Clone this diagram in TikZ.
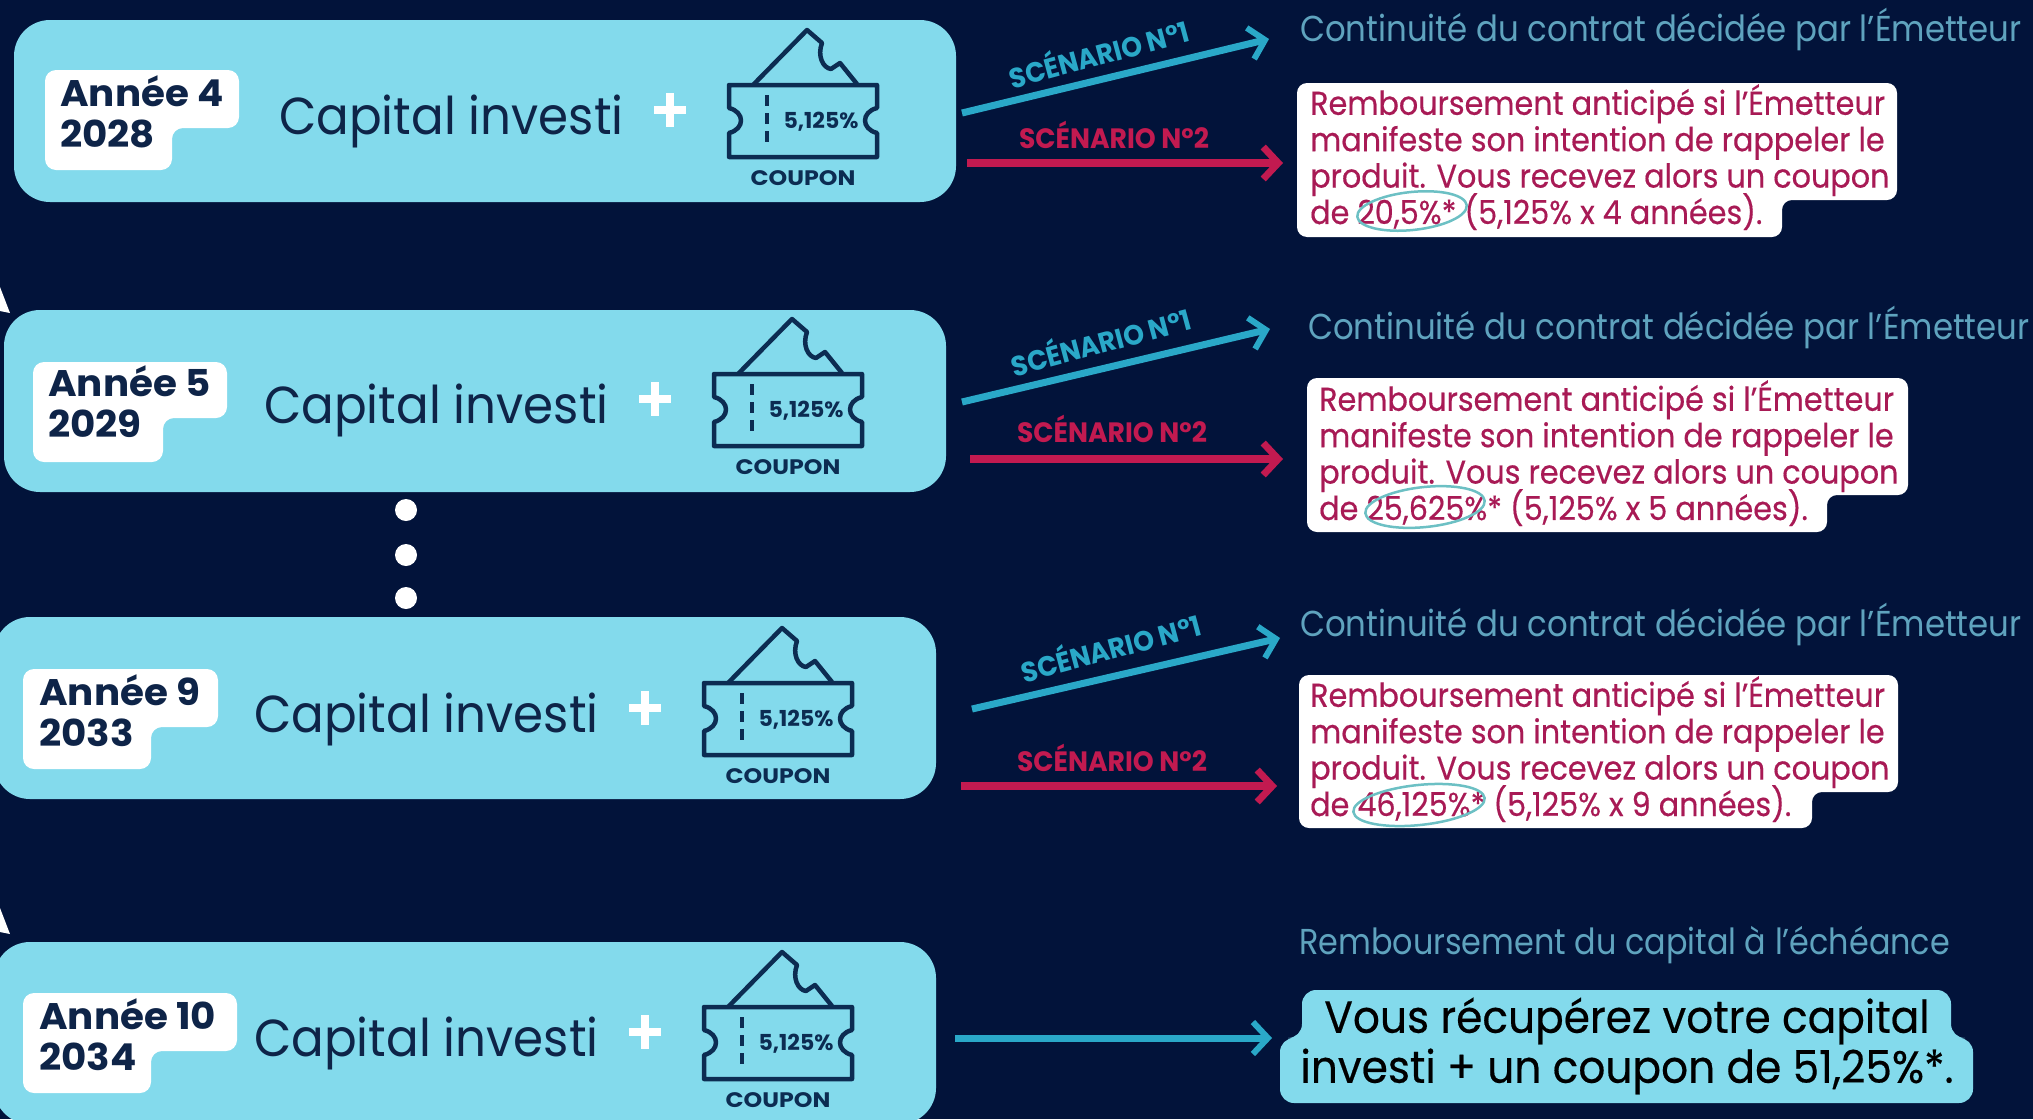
\documentclass[tikz,border=0pt]{standalone}
\usepackage{fontspec}
\usetikzlibrary{arrows.meta}
\setmainfont{Poppins}
\newfontfamily\fcap{Poppins}[FakeStretch=0.93]
\newfontfamily\fcont{Poppins}[FakeStretch=0.90]
\newfontfamily\fend{Poppins}[FakeStretch=0.885]
\newfontfamily\fred{Poppins}[FakeStretch=0.916,FakeBold=0.4]
\newfontfamily\ffinal{Poppins}[FakeStretch=0.94,FakeBold=0.4]
\newfontfamily\fyear{Poppins Bold}[FakeStretch=1.05]
\newfontfamily\fscen{Poppins Bold}[FakeStretch=0.95]
\newfontfamily\fcoup{Poppins Bold}[FakeStretch=1.13]
\newfontfamily\fpct{Poppins Bold}[FakeStretch=1.0]
\definecolor{bgc}{HTML}{02133A}
\definecolor{panelc}{HTML}{83DAEC}
\definecolor{inkc}{HTML}{0E2448}
\definecolor{ticketc}{HTML}{0C2C52}
\definecolor{bluec}{HTML}{2AA8C8}
\definecolor{redc}{HTML}{C21A50}
\definecolor{redtxt}{HTML}{A81A55}
\definecolor{contc}{HTML}{5FA3BE}
\definecolor{tealc}{HTML}{6CC0C4}
\newcommand{\fsz}[2]{\fontsize{#1}{#2}\selectfont}
\tikzset{
  panelbox/.style={fill=panelc,draw=none,rounded corners=36pt,inner sep=0pt,minimum height=182pt,minimum width=942pt},
  labelshape/.style={fill=white,rounded corners=11pt},
  tightlines/.style={execute at begin node={\lineskiplimit=-100pt\relax}},
  yeartext/.style={anchor=north west,inner sep=0pt,align=left,tightlines,text=inkc,font=\fyear\fsz{37}{41}},
  captext/.style={anchor=west,inner sep=0pt,text=inkc,font=\fcap\fsz{52}{56}},
  plussign/.style={draw=white,line width=8pt},
  ticketline/.style={draw=ticketc,line width=4.5pt,line join=round},
  tickettxt/.style={inner sep=0pt,text=ticketc,font=\fcoup\fsz{21}{24}},
  pcttxt/.style={inner sep=0pt,text=ticketc,font=\fpct\fsz{22}{24}},
  blueline/.style={draw=bluec,line width=7pt,-{Straight Barb[length=15pt,width=32pt,line width=6pt]}},
  redline/.style={draw=redc,line width=8pt,-{Straight Barb[length=15pt,width=32pt,line width=7pt]}},
  scenblue/.style={inner sep=0pt,text=bluec,font=\fscen\fsz{28}{30},rotate=15},
  scenred/.style={inner sep=0pt,text=redc,font=\fscen\fsz{28}{30}},
  conttext/.style={anchor=west,inner sep=0pt,text=contc,font=\fcont\fsz{36}{40}},
  endtext/.style={anchor=west,inner sep=0pt,text=contc,font=\fend\fsz{36}{40}},
  redtext/.style={anchor=north west,inner sep=0pt,align=left,tightlines,text=redtxt,font=\fred\fsz{33}{36.4}},
  whitebox/.style={fill=white,rounded corners=10pt},
  ringline/.style={draw=tealc,line width=2.5pt},
  dotmark/.style={circle,fill=white,inner sep=0pt,minimum size=22pt},
  finalbox/.style={fill=panelc,rounded corners=14pt},
  finaltext/.style={inner sep=0pt,align=center,tightlines,text=black,font=\ffinal\fsz{45}{50}},
}
\newcommand{\ticket}{%
  \draw[ticketline] (729,85) -- (877,85) -- (877,108) .. controls (861,112) and (861,129) .. (877,133) -- (877,157) -- (729,157) -- (729,133) .. controls (745,129) and (745,112) .. (729,108) -- cycle;
  \draw[ticketline] (753,85) -- (807,30) -- (822,43) .. controls (817,56) and (823,68) .. (831,69) -- (840,63) -- (857,84);
  \draw[ticketline,line width=4pt,dash pattern=on 11pt off 7pt] (767,95) -- (767,149);
  \node[pcttxt] (pct) at (821,122) {5,125\%};
  \node[tickettxt] (coupon) at (803,178) {COUPON};
}
\newcommand{\plusmark}{%
  \draw[plussign] (654,110) -- (686,110);
  \draw[plussign] (670,93) -- (670,127);
}
\begin{document}
\begin{tikzpicture}[x=1pt,y=-1pt]
\useasboundingbox (0,0) rectangle (2033,1119);
\clip (0,0) rectangle (2033,1119);
\fill[bgc] (0,0) rectangle (2033,1119);
% panels
\node[panelbox] (panelA) at (485,111) {};
\node[panelbox] (panelB) at (475,401) {};
\node[panelbox] (panelC) at (465,708) {};
\node[panelbox] (panelD) at (465,1033) {};
% corner wedges
\fill[white] (0,287) -- (10,313) -- (0,311) -- cycle;
\fill[white] (0,908) -- (10,934) -- (0,932) -- cycle;
% dots
\node[dotmark] (dotA) at (406,510) {};
\node[dotmark] (dotB) at (406,555) {};
\node[dotmark] (dotC) at (406,598) {};
% row 1
\begin{scope}[name prefix=r1-]
\fill[labelshape] (45,70) -- (239,70) -- (239,128) -- (172,128) -- (172,170) -- (45,170) -- cycle;
\node[yeartext] (year) at (60,75) {Année 4\\2028};
\node[captext] (cap) at (279,121) {Capital investi};
\plusmark
\ticket
\end{scope}
% row 2
\begin{scope}[shift={(-12,292)},name prefix=r2-]
\fill[labelshape] (45,70) -- (239,70) -- (239,126) -- (175,126) -- (175,170) -- (45,170) -- cycle;
\node[yeartext] (year) at (60,73) {Année 5\\2029};
\end{scope}
\begin{scope}[shift={(-15,289)},name prefix=r2-]
\node[captext] (cap) at (279,121) {Capital investi};
\plusmark
\ticket
\end{scope}
% row 3
\begin{scope}[shift={(-21,599)},name prefix=r3-]
\fill[labelshape] (44,70) -- (239,70) -- (239,128) -- (172,128) -- (172,170) -- (44,170) -- cycle;
\node[yeartext] (year) at (60,75) {Année 9\\2033};
\end{scope}
\begin{scope}[shift={(-25,598)},name prefix=r3-]
\node[captext] (cap) at (279,121) {Capital investi};
\plusmark
\ticket
\end{scope}
% row 4
\begin{scope}[shift={(-21,923)},name prefix=r4-]
\fill[labelshape] (44,70) -- (258,70) -- (258,128) -- (172,128) -- (172,170) -- (44,170) -- cycle;
\node[yeartext] (year) at (60,75) {Année 10\\2034};
\end{scope}
\begin{scope}[shift={(-25,922)},name prefix=r4-]
\node[captext] (cap) at (279,121) {Capital investi};
\plusmark
\ticket
\end{scope}
% connector ends
\coordinate (a1s) at (962,113); \coordinate (a1e) at (1269,39);
\coordinate (b1s) at (967,163); \coordinate (b1e) at (1283,163);
\coordinate (a2s) at (962,402); \coordinate (a2e) at (1270,329);
\coordinate (b2s) at (970,459); \coordinate (b2e) at (1283,459);
\coordinate (a3s) at (972,709); \coordinate (a3e) at (1280,638);
\coordinate (b3s) at (961,786); \coordinate (b3e) at (1277,786);
\coordinate (c4s) at (955,1038); \coordinate (c4e) at (1272,1038);
\draw[blueline] (a1s) -- (a1e);
\draw[redline] (b1s) -- (b1e);
\draw[blueline] (a2s) -- (a2e);
\draw[redline] (b2s) -- (b2e);
\draw[blueline] (a3s) -- (a3e);
\draw[redline] (b3s) -- (b3e);
\draw[blueline] (c4s) -- (c4e);
% scenario labels
\node[scenblue] (s11) at (1098,52) {SCÉNARIO N°1};
\node[scenred] (s12) at (1114,135) {SCÉNARIO N°2};
\node[scenblue] (s21) at (1100,340) {SCÉNARIO N°1};
\node[scenred] (s22) at (1112,429) {SCÉNARIO N°2};
\node[scenblue] (s31) at (1110,646) {SCÉNARIO N°1};
\node[scenred] (s32) at (1112,758) {SCÉNARIO N°2};
% right column
\node[conttext] (c1) at (1300,29) {Continuité du contrat décidée par l’Émetteur};
\node[conttext] (c2) at (1308,327) {Continuité du contrat décidée par l’Émetteur};
\node[conttext] (c3) at (1300,624) {Continuité du contrat décidée par l’Émetteur};
\node[endtext] (c4) at (1299,945) {Remboursement du capital à l’échéance};
\fill[whitebox] (1297,83) -- (1897,83) -- (1897,200) -- (1782,200) -- (1782,237) -- (1297,237) -- cycle;
\node[redtext] (t1) at (1310,84) {Remboursement anticipé si l’Émetteur\\manifeste son intention de rappeler le\\produit. Vous recevez alors un coupon\\de 20,5\%* (5,125\% x 4 années).};
\draw[ringline,rotate around={6:(1412,211)}] (1412,211) ellipse (55pt and 19pt);
\fill[whitebox] (1307,378) -- (1908,378) -- (1908,495) -- (1827,495) -- (1827,532) -- (1307,532) -- cycle;
\node[redtext] (t2) at (1319,380) {Remboursement anticipé si l’Émetteur\\manifeste son intention de rappeler le\\produit. Vous recevez alors un coupon\\de 25,625\%* (5,125\% x 5 années).};
\draw[ringline,rotate around={6:(1425,507)}] (1425,507) ellipse (60pt and 20pt);
\fill[whitebox] (1299,675) -- (1898,675) -- (1898,792) -- (1812,792) -- (1812,828) -- (1299,828) -- cycle;
\node[redtext] (t3) at (1310,676) {Remboursement anticipé si l’Émetteur\\manifeste son intention de rappeler le\\produit. Vous recevez alors un coupon\\de 46,125\%* (5,125\% x 9 années).};
\draw[ringline,rotate around={6:(1419,805)}] (1419,805) ellipse (66pt and 20pt);
\fill[finalbox] (1302,990) -- (1951,990) -- (1951,1038) -- (1973,1038) -- (1973,1103) -- (1280,1103) -- (1280,1038) -- (1302,1038) -- cycle;
\node[finaltext] (t4) at (1627,1046) {Vous récupérez votre capital\\investi + un coupon de 51,25\%*.};
\end{tikzpicture}
\end{document}
